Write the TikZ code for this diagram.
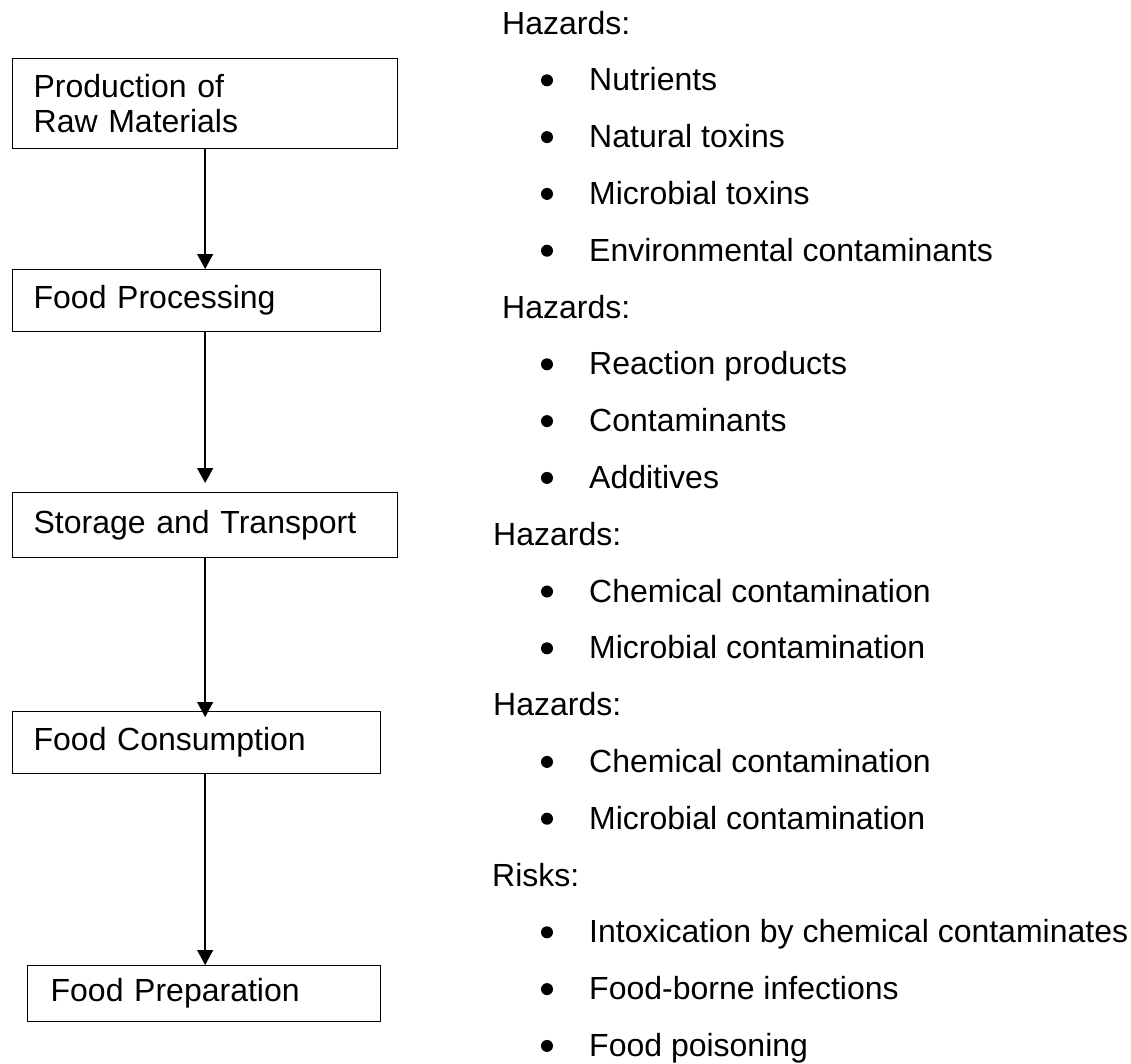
\documentclass[tikz,border=0pt]{standalone}
\usepackage{fontspec}
\setmainfont{Liberation Sans}
\usetikzlibrary{arrows.meta}

\begin{document}
\begin{tikzpicture}[x=1pt, y=-1pt,
    stage/.style={draw, line width=1.3pt, anchor=north west, align=left,
        inner xsep=21pt, inner ysep=0pt, font=\fontsize{32}{35}\selectfont},
    flow/.style={-{Triangle[length=15pt,width=16pt]}, line width=1.4pt},
    head/.style={anchor=base west, inner sep=0pt, font=\fontsize{32}{35}\selectfont},
    entry/.style={anchor=base west, inner sep=0pt, font=\fontsize{32}{35}\selectfont},
    bul/.style={circle, fill, minimum size=12pt, inner sep=0pt}]
    \useasboundingbox (0,0) rectangle (1131,1063);

    % chain of stages
    \node[stage, minimum width=385pt, minimum height=90pt, text width=343pt] (raw) at (12,58) {Production of\\Raw Materials};
    \node[stage, minimum width=368pt, minimum height=62pt, text width=326pt] (proc) at (12,269) {Food Processing};
    \node[stage, minimum width=385pt, minimum height=65pt, text width=343pt] (store) at (12,492) {Storage and Transport};
    \node[stage, minimum width=368pt, minimum height=62pt, text width=326pt] (cons) at (12,711) {Food Consumption};
    \node[stage, minimum width=353pt, minimum height=56pt, text width=307pt, inner xsep=23pt] (prep) at (27,965) {Food Preparation};

    \draw[flow] (raw.south) -- (raw.south |- proc.north);
    \draw[flow, shorten >=9pt] (raw.south |- proc.south) -- (raw.south |- store.north);
    \draw[flow, shorten >=-6pt] (raw.south |- store.south) -- (raw.south |- cons.north);
    \draw[flow] (raw.south |- cons.south) -- (raw.south |- prep.north);

    % hazards and risks
    \node[head] (h1) at (502,34) {Hazards:};
    \node[bul] (b1) at (547,80.3) {};
    \node[entry] (e1) at (589,90.8) {Nutrients};
    \node[bul] (b2) at (547,137.1) {};
    \node[entry] (e2) at (589,147.6) {Natural toxins};
    \node[bul] (b3) at (547,193.9) {};
    \node[entry] (e3) at (589,204.4) {Microbial toxins};
    \node[bul] (b4) at (547,250.7) {};
    \node[entry] (e4) at (589,261.2) {Environmental contaminants};

    \node[head] (h2) at (502,318) {Hazards:};
    \node[bul] (b5) at (547,364.3) {};
    \node[entry] (e5) at (589,374.8) {Reaction products};
    \node[bul] (b6) at (547,421.1) {};
    \node[entry] (e6) at (589,431.6) {Contaminants};
    \node[bul] (b7) at (547,477.9) {};
    \node[entry] (e7) at (589,488.4) {Additives};

    \node[head] (h3) at (493,545.2) {Hazards:};
    \node[bul] (b8) at (547,591.5) {};
    \node[entry] (e8) at (589,602) {Chemical contamination};
    \node[bul] (b9) at (547,648.3) {};
    \node[entry] (e9) at (589,658.8) {Microbial contamination};

    \node[head] (h4) at (493,715.6) {Hazards:};
    \node[bul] (b10) at (547,761.9) {};
    \node[entry] (e10) at (589,772.4) {Chemical contamination};
    \node[bul] (b11) at (547,818.7) {};
    \node[entry] (e11) at (589,829.2) {Microbial contamination};

    \node[head] (h5) at (492,886) {Risks:};
    \node[bul] (b12) at (547,932.3) {};
    \node[entry] (e12) at (589,942.8) {Intoxication by chemical contaminates};
    \node[bul] (b13) at (547,989.1) {};
    \node[entry] (e13) at (589,999.6) {Food-borne infections};
    \node[bul] (b14) at (547,1045.9) {};
    \node[entry] (e14) at (589,1056.4) {Food poisoning};
\end{tikzpicture}
\end{document}
